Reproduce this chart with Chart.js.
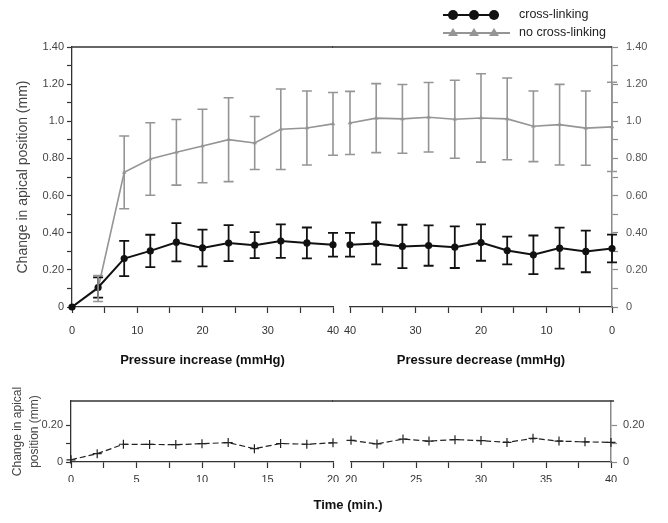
<!DOCTYPE html>
<html>
<head>
<meta charset="utf-8">
<script src="https://cdn.jsdelivr.net/npm/chart.js@4.4.1/dist/chart.umd.min.js"></script>
<style>
html, body { margin: 0; padding: 0; background: #fff; }
#wrap { position: relative; width: 668px; height: 523px; overflow: hidden; }
#wrap canvas { position: absolute; left: 0; top: 0; }
</style>
</head>
<body>
<div id="wrap">
  <canvas id="topLeft" width="668" height="523"></canvas>
  <canvas id="topRight" width="668" height="523"></canvas>
  <canvas id="botLeft" width="668" height="523"></canvas>
  <canvas id="botRight" width="668" height="523"></canvas>
</div>
<script>
// ---------------- DATA ----------------
const seriesNames = ['cross-linking', 'no cross-linking'];

const pressureIncrease = [0, 4, 8, 12, 16, 20, 24, 28, 32, 36, 40];
const pressureDecrease = [40, 36, 32, 28, 24, 20, 16, 12, 8, 4, 0];

const crossIncMean = [0, 0.105, 0.261, 0.302, 0.349, 0.318, 0.344, 0.333, 0.355, 0.345, 0.335];
const crossIncErr  = [0, 0.055, 0.095, 0.087, 0.103, 0.099, 0.097, 0.070, 0.090, 0.083, 0.064];
const noCrossIncMean = [0, 0.100, 0.725, 0.797, 0.833, 0.867, 0.901, 0.883, 0.957, 0.964, 0.986];
const noCrossIncErr  = [0, 0.070, 0.196, 0.195, 0.177, 0.198, 0.226, 0.143, 0.217, 0.199, 0.169];

const crossDecMean = [0.335, 0.342, 0.326, 0.331, 0.322, 0.347, 0.304, 0.281, 0.317, 0.299, 0.315];
const crossDecErr  = [0.064, 0.113, 0.117, 0.109, 0.112, 0.098, 0.075, 0.104, 0.110, 0.112, 0.075];
const noCrossDecMean = [0.991, 1.017, 1.013, 1.022, 1.011, 1.018, 1.013, 0.973, 0.982, 0.963, 0.970];
const noCrossDecErr  = [0.170, 0.186, 0.185, 0.187, 0.210, 0.238, 0.220, 0.190, 0.217, 0.200, 0.240];

const timeFirst  = [0, 2, 4, 6, 8, 10, 12, 14, 16, 18, 20];
const timeFirstValues  = [0.012, 0.045, 0.096, 0.095, 0.094, 0.099, 0.105, 0.072, 0.100, 0.096, 0.104];
const timeSecond = [20, 22, 24, 26, 28, 30, 32, 34, 36, 38, 40];
const timeSecondValues = [0.117, 0.098, 0.124, 0.113, 0.121, 0.116, 0.106, 0.128, 0.113, 0.109, 0.106];

const topYTicks  = [0, 0.1, 0.2, 0.3, 0.4, 0.5, 0.6, 0.7, 0.8, 0.9, 1.0, 1.1, 1.2, 1.3, 1.4];
const topYLabels = ['0', '', '0.20', '', '0.40', '', '0.60', '', '0.80', '', '1.0', '', '1.20', '', '1.40'];
const pressureTicks  = [0, 5, 10, 15, 20, 25, 30, 35, 40];
const pressureLabels = ['0', '', '10', '', '20', '', '30', '', '40'];
const botYTicks  = [0, 0.1, 0.2];
const botYLabels = ['0', '', '0.20'];
const timeTicksFirst  = [0, 2.5, 5, 7.5, 10, 12.5, 15, 17.5, 20];
const timeLabelsFirst = ['0', '', '5', '', '10', '', '15', '', '20'];
const timeTicksSecond  = [20, 22.5, 25, 27.5, 30, 32.5, 35, 37.5, 40];
const timeLabelsSecond = ['20', '', '25', '', '30', '', '35', '', '40'];

// ---------------- STYLE ----------------
const FONT = "'Liberation Sans', Arial, Helvetica, sans-serif";
Chart.defaults.font.family = FONT;
Chart.defaults.font.size = 11;
Chart.defaults.color = '#333';
Chart.defaults.animation = false;
Chart.defaults.responsive = false;
Chart.defaults.devicePixelRatio = 1;
Chart.defaults.plugins.legend.display = false;
Chart.defaults.plugins.tooltip.enabled = false;

const BLACK = '#111111';
const GREY = '#959595';
const AXIS_DARK = '#333333';
const AXIS_GREY = '#8a8a8a';

function pts(xs, ys) { return xs.map((x, i) => ({ x: x, y: ys[i] })); }
function fixWidth(w) { return s => { s.width = w; }; }
function fixHeight(h) { return s => { s.height = h; }; }
function useTicks(vals) { return s => { s.ticks = vals.map(v => ({ value: v })); }; }
function labelsFrom(arr) { return (v, i) => arr[i]; }

// error bars drawn through the y scale
const errorBarPlugin = {
  id: 'errorBars',
  afterDatasetsDraw(chart) {
    const ctx = chart.ctx;
    chart.data.datasets.forEach((ds, di) => {
      if (!ds.errorBars) return;
      const meta = chart.getDatasetMeta(di);
      const ys = chart.scales[meta.yAxisID];
      ctx.save();
      ctx.strokeStyle = ds.borderColor;
      ctx.lineWidth = ds.errorWidth || 1.5;
      meta.data.forEach((p, i) => {
        const e = ds.errorBars[i];
        if (!e) return;
        const v = ds.data[i].y;
        const yt = ys.getPixelForValue(v + e);
        const yb = ys.getPixelForValue(v - e);
        const hw = 5;
        ctx.beginPath();
        ctx.moveTo(p.x, yt); ctx.lineTo(p.x, yb);
        ctx.moveTo(p.x - hw, yt); ctx.lineTo(p.x + hw, yt);
        ctx.moveTo(p.x - hw, yb); ctx.lineTo(p.x + hw, yb);
        ctx.stroke();
      });
      ctx.restore();
    });
  }
};

// top frame line
const topFramePlugin = {
  id: 'topFrame',
  afterDraw(chart, args, opts) {
    if (!opts || !opts.show) return;
    const { left, right, top } = chart.chartArea;
    const ctx = chart.ctx;
    ctx.save();
    ctx.strokeStyle = opts.color || AXIS_DARK;
    ctx.lineWidth = opts.width || 1.3;
    ctx.beginPath();
    ctx.moveTo(left - (opts.extendLeft || 0), top);
    ctx.lineTo(right + (opts.extendRight || 0), top);
    ctx.stroke();
    ctx.restore();
  }
};
Chart.register(errorBarPlugin, topFramePlugin);

// legend with three markers per sample line
const markerLegend = {
  id: 'markerLegend',
  afterDraw(chart) {
    const ctx = chart.ctx;
    const ds = chart.data.datasets;
    const rows = [{ d: ds[0], y: 15, x2: 499 }, { d: ds[1], y: 33, x2: 510 }];
    ctx.save();
    rows.forEach(r => {
      ctx.strokeStyle = r.d.borderColor;
      ctx.fillStyle = r.d.borderColor;
      ctx.lineWidth = 2;
      ctx.beginPath(); ctx.moveTo(443, r.y); ctx.lineTo(r.x2, r.y); ctx.stroke();
      [453, 474, 494].forEach(mx => {
        ctx.beginPath();
        if (r.d.pointStyle === 'triangle') {
          ctx.moveTo(mx, r.y - 5); ctx.lineTo(mx + 5, r.y + 3); ctx.lineTo(mx - 5, r.y + 3); ctx.closePath();
        } else {
          ctx.arc(mx, r.y, 5, 0, Math.PI * 2);
        }
        ctx.fill();
      });
      ctx.fillStyle = '#222';
      ctx.font = "12.5px " + FONT;
      ctx.textBaseline = 'middle';
      ctx.textAlign = 'left';
      ctx.fillText(r.d.label, 519, r.y);
    });
    ctx.restore();
  }
};

const timeTitle = {
  id: 'timeTitle',
  afterDraw(chart) {
    const ctx = chart.ctx;
    ctx.save();
    ctx.fillStyle = '#111';
    ctx.font = "bold 13px " + FONT;
    ctx.textAlign = 'center';
    ctx.textBaseline = 'middle';
    ctx.fillText('Time (min.)', 348, 505);
    ctx.restore();
  }
};

function pressureDatasets(xs, cm, ce, nm, ne) {
  return [
    { label: seriesNames[0], data: pts(xs, cm), errorBars: ce, borderColor: BLACK, backgroundColor: BLACK,
      borderWidth: 2, pointStyle: 'circle', pointRadius: 3.6, pointBorderWidth: 0, errorWidth: 1.8, clip: false },
    { label: seriesNames[1], data: pts(xs, nm), errorBars: ne, borderColor: GREY, backgroundColor: GREY,
      borderWidth: 1.6, pointStyle: 'triangle', pointRadius: 2.6, pointBorderWidth: 0, errorWidth: 1.6, clip: false }
  ];
}

function xPressure(reverse, title) {
  return {
    type: 'linear', min: 0, max: 40, reverse: reverse,
    afterBuildTicks: useTicks(pressureTicks),
    afterFit: fixHeight(61),
    ticks: { callback: labelsFrom(pressureLabels), padding: 11, maxRotation: 0, autoSkip: false, color: '#333' },
    grid: { drawOnChartArea: false, tickLength: 6, tickColor: AXIS_DARK, tickWidth: 1.2 },
    border: { color: AXIS_DARK, width: 1.3 },
    title: { display: true, text: title, font: { size: 13, weight: 'bold' }, color: '#111', padding: { top: 0, bottom: 0 } }
  };
}

// ---------- top left ----------
new Chart(document.getElementById('topLeft'), {
  type: 'line',
  data: { datasets: pressureDatasets(pressureIncrease, crossIncMean, crossIncErr, noCrossIncMean, noCrossIncErr) },
  options: {
    layout: { padding: { left: 0, top: 47, right: 335, bottom: 155 } },
    scales: {
      x: xPressure(false, 'Pressure increase (mmHg)'),
      y: {
        type: 'linear', min: 0, max: 1.4, position: 'left',
        afterBuildTicks: useTicks(topYTicks),
        afterFit: fixWidth(72),
        ticks: { callback: labelsFrom(topYLabels), padding: 3, color: '#444' },
        grid: { drawOnChartArea: false, tickLength: 5, tickColor: AXIS_DARK, tickWidth: 1.2 },
        border: { color: AXIS_DARK, width: 1.3 },
        title: { display: true, text: 'Change in apical position (mm)', font: { size: 14 }, color: '#444', padding: { top: 15, bottom: 0 } }
      }
    },
    plugins: { topFrame: { show: true } }
  },
  plugins: [markerLegend]
});

// ---------- top right ----------
new Chart(document.getElementById('topRight'), {
  type: 'line',
  data: { datasets: pressureDatasets(pressureDecrease, crossDecMean, crossDecErr, noCrossDecMean, noCrossDecErr) },
  options: {
    layout: { padding: { left: 350, top: 47, right: 0, bottom: 155 } },
    scales: {
      x: xPressure(true, 'Pressure decrease (mmHg)'),
      y: {
        type: 'linear', min: 0, max: 1.4, position: 'right',
        afterBuildTicks: useTicks(topYTicks),
        afterFit: fixWidth(56),
        ticks: { callback: labelsFrom(topYLabels), padding: 8, color: '#555' },
        grid: { drawOnChartArea: false, tickLength: 6, tickColor: AXIS_GREY, tickWidth: 1.2 },
        border: { color: AXIS_GREY, width: 1.5 }
      }
    },
    plugins: { topFrame: { show: true, extendLeft: 18 } }
  }
});

function timeDataset(xs, ys) {
  return [{ label: 'time', data: pts(xs, ys), borderColor: '#222', backgroundColor: '#222',
    borderWidth: 1.2, borderDash: [6, 3], pointStyle: 'cross', pointRadius: 4.5, pointBorderWidth: 1.2, clip: false }];
}

function xTime(ticks, labels) {
  return {
    type: 'linear', min: ticks[0], max: ticks[ticks.length - 1],
    afterBuildTicks: useTicks(ticks),
    afterFit: fixHeight(20),
    ticks: { callback: labelsFrom(labels), padding: 5, maxRotation: 0, autoSkip: false, color: '#333' },
    grid: { drawOnChartArea: false, tickLength: 6, tickColor: AXIS_DARK, tickWidth: 1.2 },
    border: { color: AXIS_DARK, width: 1.3 }
  };
}

// ---------- bottom left ----------
new Chart(document.getElementById('botLeft'), {
  type: 'line',
  data: { datasets: timeDataset(timeFirst, timeFirstValues) },
  options: {
    layout: { padding: { left: 0, top: 401, right: 335, bottom: 41 } },
    scales: {
      x: xTime(timeTicksFirst, timeLabelsFirst),
      y: {
        type: 'linear', min: 0, max: 0.33, position: 'left',
        afterBuildTicks: useTicks(botYTicks),
        afterFit: fixWidth(71),
        ticks: { callback: labelsFrom(botYLabels), padding: 3, color: '#444' },
        grid: { drawOnChartArea: false, tickLength: 5, tickColor: AXIS_DARK, tickWidth: 1.2 },
        border: { color: AXIS_DARK, width: 1.3 },
        title: { display: true, text: ['Change in apical', 'position (mm)'], font: { size: 12, lineHeight: 1.35 }, color: '#444', padding: { top: 10, bottom: 0 } }
      }
    },
    plugins: { topFrame: { show: true } }
  },
  plugins: [timeTitle]
});

// ---------- bottom right ----------
new Chart(document.getElementById('botRight'), {
  type: 'line',
  data: { datasets: timeDataset(timeSecond, timeSecondValues) },
  options: {
    layout: { padding: { left: 351, top: 401, right: 0, bottom: 41 } },
    scales: {
      x: xTime(timeTicksSecond, timeLabelsSecond),
      y: {
        type: 'linear', min: 0, max: 0.33, position: 'right',
        afterBuildTicks: useTicks(botYTicks),
        afterFit: fixWidth(57),
        ticks: { callback: labelsFrom(botYLabels), padding: 6, color: '#444' },
        grid: { drawOnChartArea: false, tickLength: 6, tickColor: AXIS_GREY, tickWidth: 1.2 },
        border: { color: AXIS_GREY, width: 1.5 }
      }
    },
    plugins: { topFrame: { show: true, extendLeft: 19, extendRight: 3 } }
  }
});
</script>
</body>
</html>
